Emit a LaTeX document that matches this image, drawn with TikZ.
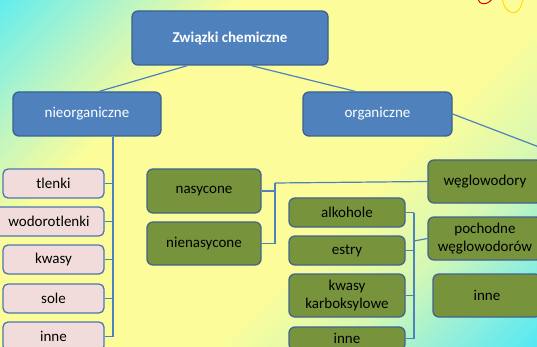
\documentclass[tikz,border=0pt]{standalone}
\usepackage{fontspec}
\setmainfont{Carlito}
\usetikzlibrary{calc}

\definecolor{bgA}{HTML}{5DEDF1}
\definecolor{bgB}{HTML}{B4F4C8}
\definecolor{bgY}{HTML}{FCFD9A}
\definecolor{bgG}{HTML}{D6F8B4}
\definecolor{bgC}{HTML}{92EFDC}
\definecolor{bgD}{HTML}{4CE7F7}
\definecolor{blueFill}{HTML}{4F81BD}
\definecolor{blueEdge}{HTML}{3A6192}
\definecolor{pinkFill}{HTML}{F2DCDB}
\definecolor{pinkEdge}{HTML}{4A76AE}
\definecolor{greenFill}{HTML}{77933C}
\definecolor{greenEdge}{HTML}{44648E}
\definecolor{linkBlue}{HTML}{4F81BD}

% diagonal colour band of the backdrop: from x+y=#1 to x+y=#2, colour #3 to #4
\newcommand\bgband[4]{%
  \foreach \k in {0,...,23}{%
    \pgfmathsetmacro\ta{#1+(#2-#1)*\k/24}%
    \pgfmathsetmacro\tb{#1+(#2-#1)*(\k+1)/24+0.8}%
    \pgfmathsetmacro\pc{100*(\k+0.5)/24}%
    \fill[#4!\pc!#3] (\ta,0) -- (\tb,0) -- (\tb-347,347) -- (\ta-347,347) -- cycle;
  }}

\tikzset{
  box/.style={rounded corners=6pt, line width=1.3pt, inner sep=0pt,
    font=\fontsize{15}{18}\selectfont, align=center},
  bluebox/.style={box, fill=blueFill, draw=blueEdge, text=white},
  pinkbox/.style={box, fill=pinkFill, draw=pinkEdge, text=black, rounded corners=5pt},
  greenbox/.style={box, fill=greenFill, draw=greenEdge, text=black},
  link/.style={draw=linkBlue, line width=1.2pt},
}

\begin{document}
\begin{tikzpicture}[x=1pt, y=-1pt]
\useasboundingbox (0,0) rectangle (537,347);
\begin{scope}
\clip (0,0) rectangle (537,347);

% backdrop: cyan corners, yellow middle
\bgband{-5}{120}{bgA}{bgB}
\bgband{120}{240}{bgB}{bgY}
\fill[bgY] (240,0) -- (561,0) -- (214,347) -- (-107,347) -- cycle;
\bgband{560}{690}{bgY}{bgG}
\bgband{690}{790}{bgG}{bgC}
\bgband{790}{895}{bgC}{bgD}

% atom logo peeking in at the top edge
\draw[red!90!black, line width=1pt] (478,-3) .. controls (478,7) and (490,5) .. (493,-3);
\draw[yellow!80!orange, line width=1pt] (502,-3) .. controls (504,16) and (521,20) .. (523,-3);

% nodes
\node[bluebox, minimum width=196pt, minimum height=54pt] (top) at (230,38) {\textbf{Związki chemiczne}};
\node[bluebox, minimum width=148pt, minimum height=44pt] (nieorg) at (87,114) {nieorganiczne};
\node[bluebox, minimum width=149pt, minimum height=44pt] (org) at (377.5,114) {organiczne};

\node[pinkbox, minimum width=101pt, minimum height=29pt] (tlenki) at (53.5,183.5) {tlenki};
\node[pinkbox, minimum width=110pt, minimum height=29pt] (wodor) at (49,221.5) {wodorotlenki};
\node[pinkbox, minimum width=101pt, minimum height=29pt] (kwasy) at (53.5,259.5) {kwasy};
\node[pinkbox, minimum width=101pt, minimum height=29pt] (sole) at (53.5,298.5) {sole};
\node[pinkbox, minimum width=101pt, minimum height=29pt] (inneL) at (53.5,336.5) {inne};

\node[greenbox, minimum width=114pt, minimum height=44pt] (nas) at (204,191) {nasycone};
\node[greenbox, minimum width=114pt, minimum height=43pt] (nienas) at (204,243.5) {nienasycone};

\node[greenbox, minimum width=116pt, minimum height=29pt] (alk) at (347,212.5) {alkohole};
\node[greenbox, minimum width=116pt, minimum height=29pt] (estry) at (347,250.5) {estry};
\node[greenbox, minimum width=116pt, minimum height=43pt] (kkarb) at (347,295.5) {kwasy\\karboksylowe};
\node[greenbox, minimum width=116pt, minimum height=23pt] (inneM) at (347,338.5) {inne};

\node[greenbox, minimum width=114pt, minimum height=43pt] (wegl) at (485,181.5) {węglowodory};
\node[greenbox, minimum width=114pt, minimum height=43pt] (poch) at (485,238.5) {pochodne\\węglowodorów};
\node[greenbox, minimum width=108pt, minimum height=43pt] (inneR) at (487,295.5) {inne};

% bus positions and the free end of the line leaving on the right
\coordinate (busL) at (113,0);
\coordinate (busN) at (275,0);
\coordinate (busM) at (414,0);
\coordinate (offRight) at (560,155);

% connectors
\draw[link] ($(top.south west)+(56,0)$) -- ($(nieorg.north west)+(87,0)$);
\draw[link] ($(top.south west)+(120,0)$) -- ($(org.north west)+(53,0)$);
\draw[link] (org.east) -- (offRight);

\draw[link] (nieorg.south -| busL) -- (inneL.east -| busL);
\foreach \n in {tlenki,wodor,kwasy,sole,inneL}
  \draw[link] (\n.east) -- (\n.east -| busL);

\draw[link] (nas.east) -- (nas.east -| busN);
\draw[link] (nienas.east) -- (nienas.east -| busN);
\draw[link] ($(nas.east -| busN)+(0,-8)$) -- (nienas.east -| busN);
\draw[link] ($(nas.east -| busN)+(0,-8)$) -- (wegl.west);

\draw[link] (alk.east -| busM) -- (inneM.east -| busM);
\foreach \n in {alk,estry,kkarb,inneM}
  \draw[link] (\n.east) -- (\n.east -| busM);
\draw[link] ($(estry.east -| busM)+(0,-9.5)$) -- (poch.west);
\end{scope}
\end{tikzpicture}
\end{document}
